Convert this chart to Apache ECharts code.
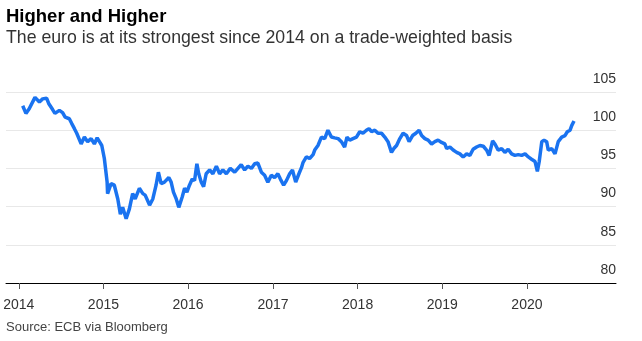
<!DOCTYPE html>
<html>
<head>
<meta charset="utf-8">
<script src="https://cdn.jsdelivr.net/npm/echarts@6/dist/echarts.min.js"></script>
<style>
html,body{margin:0;padding:0;background:#fff;}
#chart{width:642px;height:341px;}
</style>
</head>
<body>
<div id="chart"></div>
<script>
// Data
const dates = [
'2014-01-18','2014-02-01','2014-02-15','2014-03-12','2014-03-31','2014-04-14','2014-05-01','2014-05-10','2014-05-27','2014-06-06',
'2014-06-25','2014-07-09','2014-07-20','2014-08-07','2014-08-17','2014-08-29','2014-09-08','2014-09-27','2014-10-11','2014-10-25',
'2014-11-09','2014-11-23','2014-12-05','2014-12-15','2014-12-25','2015-01-05','2015-01-17','2015-01-19','2015-02-03','2015-02-17',
'2015-03-04','2015-03-15','2015-03-25','2015-04-09','2015-04-23','2015-05-07','2015-05-18','2015-06-05','2015-06-20','2015-06-30',
'2015-07-19','2015-08-02','2015-08-16','2015-08-26','2015-09-07','2015-09-21','2015-09-29','2015-10-10','2015-10-20','2015-10-30',
'2015-11-11','2015-11-22','2015-11-28','2015-12-07','2015-12-17','2015-12-27','2016-01-07','2016-01-19','2016-01-29','2016-02-08',
'2016-02-16','2016-02-27','2016-03-08','2016-03-19','2016-04-03','2016-04-17','2016-05-02','2016-05-16','2016-05-30','2016-06-14',
'2016-07-01','2016-07-20','2016-08-03','2016-08-17','2016-09-01','2016-09-15','2016-09-30','2016-10-14','2016-10-28','2016-11-12',
'2016-11-26','2016-12-10','2016-12-25','2017-01-08','2017-01-22','2017-02-02','2017-02-16','2017-02-28','2017-03-14','2017-03-26',
'2017-04-09','2017-04-23','2017-05-04','2017-05-11','2017-05-25','2017-06-08','2017-06-23','2017-06-30','2017-07-14','2017-07-29',
'2017-08-12','2017-08-26','2017-09-10','2017-09-24','2017-10-09','2017-10-23','2017-11-06','2017-11-16','2017-11-28','2017-12-12',
'2017-12-27','2018-01-10','2018-01-24','2018-02-08','2018-02-19','2018-03-02','2018-03-16','2018-03-30','2018-04-14','2018-04-28',
'2018-05-12','2018-05-27','2018-06-06','2018-06-18','2018-07-02','2018-07-16','2018-07-31','2018-08-11','2018-08-26','2018-09-09',
'2018-09-23','2018-10-04','2018-10-18','2018-11-01','2018-11-16','2018-11-30','2018-12-14','2018-12-29','2019-01-12','2019-01-20',
'2019-02-03','2019-02-17','2019-03-04','2019-03-18','2019-04-01','2019-04-16','2019-04-30','2019-05-14','2019-05-29','2019-06-12',
'2019-06-27','2019-07-11','2019-07-22','2019-08-06','2019-08-16','2019-08-30','2019-09-14','2019-09-28','2019-10-12','2019-10-27',
'2019-11-10','2019-11-25','2019-12-09','2019-12-24','2020-01-07','2020-01-21','2020-02-05','2020-02-15','2020-02-23','2020-03-05',
'2020-03-15','2020-03-26','2020-04-02','2020-04-17','2020-05-01','2020-05-15','2020-05-30','2020-06-13','2020-06-23','2020-07-05',
'2020-07-12','2020-07-22'
];
const euroIndex = [
103.2,102.2,102.8,104.3,103.7,104.1,104.2,103.5,102.7,102.2,
102.6,102.3,101.7,101.5,100.9,100.2,99.6,98.2,99.1,98.5,
98.9,98.2,99.0,98.5,98.0,96.3,93.2,91.7,93.0,92.8,
91.0,89.0,89.9,88.4,89.7,91.7,91.0,92.4,91.7,91.5,
90.2,91.0,92.8,94.5,93.0,93.2,93.0,93.8,93.2,91.9,
91.0,89.9,89.7,91.3,92.4,91.9,92.8,93.6,93.4,95.6,
94.3,93.2,92.6,94.3,94.8,94.3,95.3,94.3,94.8,94.3,
95.0,94.5,95.0,95.5,94.8,95.3,95.0,95.6,95.7,94.5,
94.1,93.2,94.1,93.8,94.3,93.6,92.8,93.4,94.3,94.8,
93.2,94.3,95.1,95.8,96.5,96.3,96.8,97.4,98.0,99.1,
98.9,100.0,99.1,99.0,98.9,98.5,97.8,99.1,98.7,98.9,
99.1,99.8,99.6,100.0,100.2,99.8,100.0,99.6,99.6,99.1,
98.5,97.1,97.6,98.0,98.9,99.6,99.3,98.5,99.3,99.6,
100.0,99.3,98.9,98.7,98.2,98.5,98.7,98.4,98.2,97.6,
97.8,97.4,97.1,96.9,96.5,96.9,96.7,97.5,97.8,98.0,
97.9,97.4,96.7,98.6,98.2,97.4,97.6,97.1,97.5,96.9,
96.7,96.8,96.7,96.9,96.5,96.2,95.9,94.6,95.9,98.5,
98.7,98.5,97.4,97.6,96.9,98.5,99.1,99.3,99.8,100.0,
100.6,101.2
];
const yearTicks = ['2014-01-01','2015-01-01','2016-01-01','2017-01-01','2018-01-01','2019-01-01','2020-01-01'];
const xRange = ['2013-11-07', '2021-01-19'];
const yTicks = [80, 85, 90, 95, 100, 105];
const titleText = 'Higher and Higher';
const subtitleText = 'The euro is at its strongest since 2014 on a trade-weighted basis';
const sourceText = 'Source: ECB via Bloomberg';

const FONT = 'Liberation Sans';
const toTime = d => new Date(d + 'T00:00:00Z').getTime();
const tickTimes = yearTicks.map(toTime);
const chart = echarts.init(document.getElementById('chart'), null, {renderer: 'canvas'});
chart.setOption({
  animation: false,
  backgroundColor: '#fff',
  title: [
    {text: titleText, left: 6, top: 7, padding: 0,
     textStyle: {fontFamily: FONT, fontSize: 18.5, fontWeight: 'bold', color: '#000'}},
    {text: subtitleText, left: 6, top: 29, padding: 0,
     textStyle: {fontFamily: FONT, fontSize: 17.7, fontWeight: 'normal', color: '#333'}},
    {text: sourceText, left: 6, top: 321, padding: 0,
     textStyle: {fontFamily: FONT, fontSize: 13, fontWeight: 'normal', color: '#444'}}
  ],
  grid: {left: 6, right: 26, top: 92, bottom: 58, containLabel: false, outerBoundsMode: 'none'},
  xAxis: {
    type: 'value',
    min: toTime(xRange[0]),
    max: toTime(xRange[1]),
    axisLine: {show: true, onZero: false, lineStyle: {color: '#000', width: 1}},
    axisTick: {show: true, length: 6, lineStyle: {color: '#555'}, customValues: tickTimes},
    splitLine: {show: false},
    axisLabel: {
      fontFamily: FONT, fontSize: 14, color: '#333', margin: 15,
      customValues: tickTimes,
      formatter: function (v) { return String(new Date(v).getUTCFullYear()); }
    }
  },
  yAxis: {
    type: 'value',
    position: 'right',
    min: yTicks[0],
    max: yTicks[yTicks.length - 1],
    interval: 5,
    axisLine: {show: false},
    axisTick: {show: false},
    splitLine: {show: true, lineStyle: {color: '#e8e8e8', width: 1}},
    axisLabel: {
      inside: true, margin: 0, fontFamily: FONT, fontSize: 14, color: '#333',
      verticalAlign: 'bottom', padding: [0, 0, 6, 0]
    }
  },
  series: [{
    type: 'line',
    data: dates.map((d, i) => [toTime(d), euroIndex[i]]),
    showSymbol: false,
    symbol: 'none',
    lineStyle: {color: '#1a73f0', width: 3.5},
    z: 3
  }]
});
</script>
</body>
</html>
